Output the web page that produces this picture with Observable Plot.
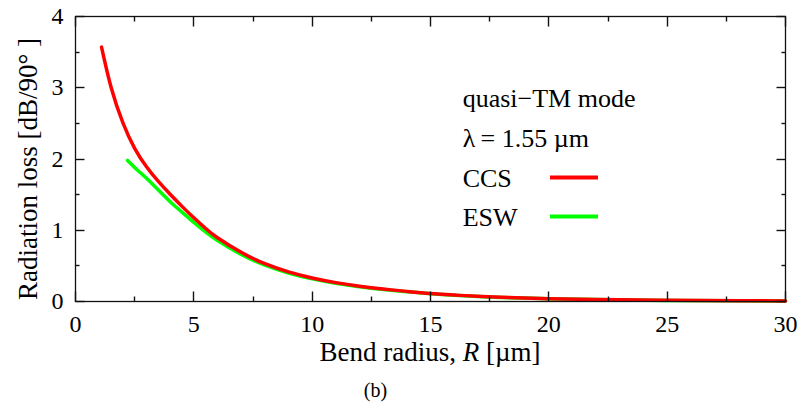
<!DOCTYPE html>
<html>
<head>
<meta charset="utf-8">
<script src="https://cdn.jsdelivr.net/npm/d3@7"></script>
<script src="https://cdn.jsdelivr.net/npm/@observablehq/plot@0.6"></script>
<style>
  html, body { margin: 0; padding: 0; background: #fff; }
  #chart { width: 804px; height: 402px; }
</style>
</head>
<body>
<div id="chart"></div>
<script>
// Bend radius R [µm] and radiation loss [dB/90°]
const ccsR    = [1.1, 1.5, 2.0, 2.5, 3.0, 3.5, 4.0, 4.5, 5.0, 5.5, 6, 7, 8, 9, 10, 11, 12, 13, 14, 15, 16, 17, 18, 20, 22, 25, 28, 30];
const ccsLoss = [3.57, 3.01, 2.51, 2.15, 1.89, 1.685, 1.505, 1.335, 1.175, 1.025, 0.895, 0.69, 0.53, 0.415, 0.33, 0.265, 0.215, 0.175, 0.142, 0.112, 0.09, 0.073, 0.06, 0.04, 0.028, 0.016, 0.01, 0.008];
const eswR    = [2.2, 2.6, 3.0, 3.5, 4.0, 4.5, 5.0, 5.5, 6, 7, 8, 9, 10, 11, 12, 13, 14, 15, 16, 17, 18, 20, 22, 25, 28, 30];
const eswLoss = [1.98, 1.85, 1.73, 1.565, 1.40, 1.255, 1.11, 0.975, 0.855, 0.66, 0.51, 0.40, 0.317, 0.255, 0.207, 0.169, 0.138, 0.109, 0.087, 0.07, 0.057, 0.038, 0.027, 0.015, 0.009, 0.007];

const xMajor = [0, 5, 10, 15, 20, 25, 30];
const xMinor = [2.5, 7.5, 12.5, 17.5, 22.5, 27.5];
const yMajor = [0, 1, 2, 3, 4];
const yMinor = [0.5, 1.5, 2.5, 3.5];

const seriesNames = ["CCS", "ESW"];
const seriesColors = ["#ff0000", "#00ff00"];
const legendHeader = ["quasi\u2212TM mode", "\u03bb\u2009= 1.55 \u00b5m"];

const ccs = ccsR.map((r, i) => ({R: r, loss: ccsLoss[i]}));
const esw = eswR.map((r, i) => ({R: r, loss: eswLoss[i]}));

const W = 804, H = 402, mL = 75, mR = 19, mT = 16, mB = 101;

const font = "'Liberation Serif', 'Times New Roman', serif";
const axisColor = "#111";
const intFmt = d3.format("d");

const svg = Plot.plot({
  width: W,
  height: H,
  marginLeft: mL,
  marginRight: mR,
  marginTop: mT,
  marginBottom: mB,
  x: {domain: [0, 30]},
  y: {domain: [0, 4]},
  marks: [
    // tick labels
    Plot.axisX(xMajor, {anchor: "bottom", tickSize: 0, tickPadding: 13, tickFormat: intFmt, label: null, fontSize: 24, fontFamily: font, fill: "#000"}),
    Plot.axisY(yMajor, {anchor: "left", tickSize: 0, tickPadding: 12, tickFormat: intFmt, label: null, fontSize: 24, fontFamily: font, fill: "#000"}),
    // curves
    Plot.line(esw, {x: "R", y: "loss", stroke: seriesColors[1], strokeWidth: 3.5, curve: "natural"}),
    Plot.line(ccs, {x: "R", y: "loss", stroke: seriesColors[0], strokeWidth: 3.5, curve: "natural"})
  ]
});

const s = d3.select(svg);
s.style("background", "#fff");

// frame and inward ticks, positioned with the plot's own scales
const xs = svg.scale("x"), ys = svg.scale("y");
const px = v => Math.round(xs.apply(v)) + 0.5;
const py = v => Math.round(ys.apply(v)) + 0.5;
const x0 = px(0), x1 = px(30), y0 = py(0), y1 = py(4);
const g = s.append("g").attr("stroke", axisColor).attr("stroke-width", 1.4).attr("fill", "none");
const tickLine = (xa, ya, xb, yb) => g.append("line").attr("x1", xa).attr("y1", ya).attr("x2", xb).attr("y2", yb);
[[xMajor, 10], [xMinor, 5]].forEach(([vals, len]) => vals.forEach(v => {
  tickLine(px(v), y0, px(v), y0 - len);
  tickLine(px(v), y1, px(v), y1 + len);
}));
[[yMajor, 9], [yMinor, 4]].forEach(([vals, len]) => vals.forEach(v => {
  tickLine(x0, py(v), x0 + len, py(v));
  tickLine(x1, py(v), x1 - len, py(v));
}));
g.append("rect").attr("x", x0).attr("y", y1).attr("width", x1 - x0).attr("height", y0 - y1).attr("stroke-width", 1.3);

const addText = (x, y, size, anchor) => s.append("text").attr("x", x).attr("y", y)
  .attr("text-anchor", anchor).attr("font-family", font).attr("font-size", size).attr("fill", "#000");
// x axis label
const xl = addText(430, 361, 27, "middle");
xl.append("tspan").text("Bend radius, ");
xl.append("tspan").attr("font-style", "italic").text("R");
xl.append("tspan").text(" [\u00b5m]");
// y axis label
s.append("text").attr("transform", "translate(37,169) rotate(-90)").attr("text-anchor", "middle")
  .attr("font-family", font).attr("font-size", 27).attr("fill", "#000")
  .text("Radiation loss [dB/90\u00b0 ]");
// caption
addText(375.5, 397, 20, "middle").text("(b)");
// legend
const legendX = 462.7;
const baselines = [107, 147, 187, 226];
legendHeader.forEach((t, i) => addText(legendX, baselines[i], 26, "start").text(t));
seriesNames.forEach((t, i) => {
  const by = baselines[i + 2];
  addText(legendX, by, 26, "start").text(t);
  s.append("line").attr("x1", 550).attr("x2", 598).attr("y1", by - 9.5).attr("y2", by - 9.5)
    .attr("stroke", seriesColors[i]).attr("stroke-width", 4);
});

document.getElementById("chart").appendChild(svg);
</script>
</body>
</html>
